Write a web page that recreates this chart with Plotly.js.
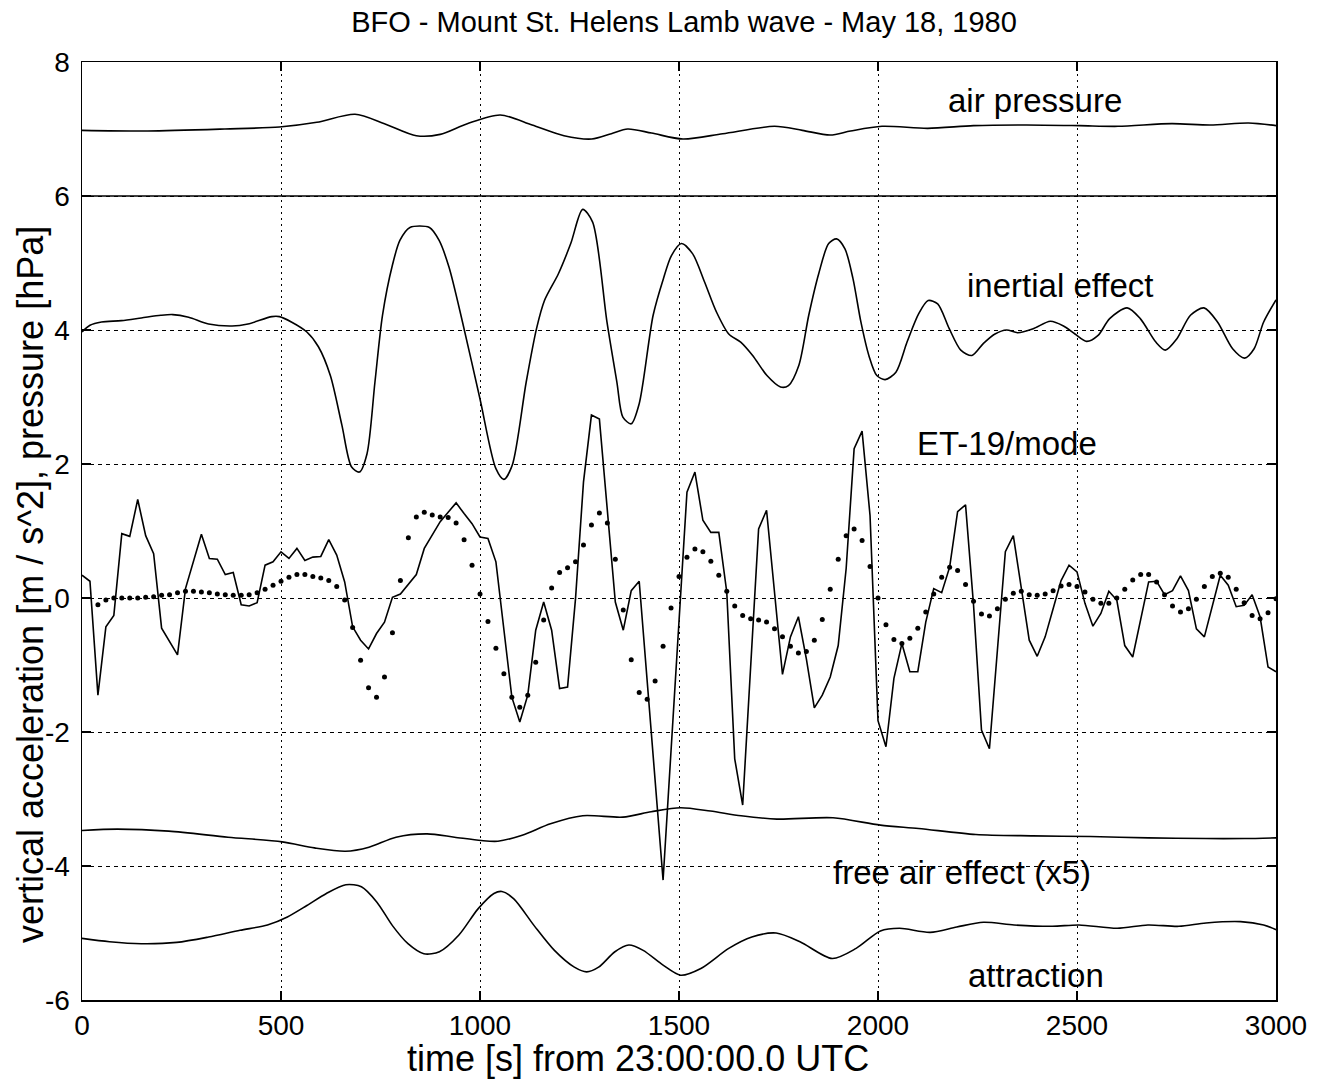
<!DOCTYPE html>
<html>
<head>
<meta charset="utf-8">
<script src="https://cdn.plot.ly/plotly-3.0.1.min.js"></script>
<style>html,body{margin:0;padding:0;background:#fff;}#chart{width:1330px;height:1079px;}</style>
</head>
<body>
<div id="chart"></div>
<script>
// ---- ET-19 / mode (solid line), sampled every 20 s ----
var et19Time = [0,20,40,60,80,100,120,140,160,180,200,220,240,260,280,300,320,340,360,380,
400,420,440,460,480,500,520,540,560,580,600,620,640,660,680,700,720,740,760,780,
800,820,840,860,880,900,920,940,960,980,1000,1020,1040,1060,1080,1100,1120,1140,1160,1180,
1200,1220,1240,1260,1280,1300,1320,1340,1360,1380,1400,1420,1440,1460,1480,1500,1520,1540,1560,1580,
1600,1620,1640,1660,1680,1700,1720,1740,1760,1780,1800,1820,1840,1860,1880,1900,1920,1940,1960,1980,
2000,2020,2040,2060,2080,2100,2120,2140,2160,2180,2200,2220,2240,2260,2280,2300,2320,2340,2360,2380,
2400,2420,2440,2460,2480,2500,2520,2540,2560,2580,2600,2620,2640,2660,2680,2700,2720,2740,2760,2780,
2800,2820,2840,2860,2880,2900,2920,2940,2960,2980,3000];
var et19Value = [0.34,0.25,-1.45,-0.43,-0.26,0.96,0.92,1.47,0.93,0.66,
-0.45,-0.66,-0.85,0.14,0.54,0.95,0.59,0.58,0.35,0.38,
-0.10,-0.12,-0.07,0.49,0.54,0.69,0.59,0.74,0.56,0.61,
0.62,0.87,0.64,0.24,-0.43,-0.63,-0.76,-0.53,-0.36,0.01,
0.06,0.21,0.35,0.74,0.94,1.14,1.28,1.42,1.26,1.11,
0.91,0.89,0.54,-0.47,-1.48,-1.85,-1.45,-0.48,-0.06,-0.48,
-1.35,-1.33,-0.01,1.73,2.73,2.67,1.33,-0.06,-0.48,0.11,
0.25,-1.24,-2.73,-4.21,-2.28,-0.35,1.58,1.88,1.16,0.98,
0.98,0.09,-2.40,-3.09,-1.03,1.03,1.31,0.04,-1.14,-0.58,
-0.28,-0.91,-1.64,-1.45,-1.18,-0.71,0.44,2.23,2.49,1.23,
-1.83,-2.22,-1.20,-0.68,-1.10,-1.10,-0.36,0.14,0.08,0.46,
1.29,1.39,-0.10,-1.97,-2.25,-0.78,0.69,0.93,0.14,-0.63,
-0.87,-0.58,-0.16,0.26,0.49,0.39,-0.08,-0.42,-0.23,0.10,
-0.03,-0.71,-0.88,-0.31,0.24,0.25,0.05,0.11,0.33,0.11,
-0.46,-0.58,-0.10,0.34,0.19,-0.13,-0.11,0.05,-0.28,-1.03,
-1.10];

// ---- mode (dots) ----
var modeTime = [40,60,80,100,120,140,160,180,200,220,240,260,280,300,320,340,360,380,
400,420,440,460,480,500,520,540,560,580,600,620,640,660,680,700,720,740,760,780,
800,820,840,860,880,900,920,940,960,980,1000,1020,1040,1060,1080,1100,1120,1140,1160,1180,
1200,1220,1240,1260,1280,1300,1320,1340,1360,1380,1400,1420,1440,1460,1480,1500,1520,1540,1560,1580,
1600,1620,1640,1660,1680,1700,1720,1740,1760,1780,1800,1820,1840,1860,1880,1900,1920,1940,1960,1980,
2000,2020,2040,2060,2080,2100,2120,2140,2160,2180,2200,2220,2240,2260,2280,2300,2320,2340,2360,2380,
2400,2420,2440,2460,2480,2500,2520,2540,2560,2580,2600,2620,2640,2660,2680,2700,2720,2740,2760,2780,
2800,2820,2840,2860,2880,2900,2920,2940,2960,2980,3000];
var modeValue = [-0.10,-0.03,0.00,0.00,0.00,0.00,0.01,0.02,0.04,0.05,
0.08,0.10,0.10,0.09,0.08,0.06,0.05,0.04,0.04,0.05,
0.08,0.13,0.19,0.25,0.31,0.35,0.35,0.32,0.30,0.26,
0.17,-0.03,-0.44,-0.93,-1.34,-1.48,-1.18,-0.52,0.26,0.90,
1.21,1.28,1.24,1.21,1.20,1.12,0.87,0.49,0.06,-0.35,
-0.75,-1.13,-1.48,-1.63,-1.45,-0.96,-0.33,0.15,0.38,0.45,
0.54,0.79,1.09,1.27,1.12,0.58,-0.18,-0.92,-1.41,-1.51,
-1.24,-0.72,-0.15,0.32,0.61,0.73,0.69,0.55,0.34,0.10,
-0.12,-0.26,-0.31,-0.33,-0.36,-0.46,-0.58,-0.72,-0.82,-0.80,
-0.63,-0.32,0.13,0.58,0.93,1.03,0.86,0.47,0.00,-0.40,
-0.62,-0.68,-0.60,-0.45,-0.21,0.06,0.31,0.46,0.41,0.20,
-0.05,-0.24,-0.27,-0.16,-0.02,0.07,0.10,0.05,0.04,0.06,
0.11,0.18,0.20,0.17,0.09,-0.02,-0.08,-0.08,0.00,0.13,
0.27,0.35,0.35,0.24,0.05,-0.12,-0.21,-0.16,-0.02,0.17,
0.32,0.37,0.31,0.13,-0.07,-0.26,-0.31,-0.22,-0.01];

// ---- air pressure ----
var airTime = [0,165,359,496,590,686,760,840,900,968,1051,1131,1211,1281,1330,1371,1431,1510,1610,1740,
1810,1880,1931,2010,2125,2240,2373,2507,2603,2738,2835,2931,3000];
var airValue = [6.98,6.97,7.00,7.03,7.10,7.22,7.08,6.90,6.92,7.08,7.21,7.06,6.90,6.85,6.93,7.00,6.94,6.85,6.93,7.04,
6.98,6.91,6.97,7.04,7.01,7.05,7.06,7.05,7.04,7.08,7.06,7.09,7.05];

// ---- inertial effect ----
var inertTime = [0,20,49,99,149,198,228,268,318,377,417,477,496,526,565,594,624,653,677,697,
716,736,755,780,799,824,873,897,922,956,1000,1040,1060,1081,1116,1142,1162,1197,1228,1258,
1283,1319,1344,1359,1380,1400,1435,1461,1481,1506,1534,1564,1594,1625,1655,1685,1721,1755,1775,1801,
1826,1851,1876,1896,1917,1937,1957,1977,1997,2018,2045,2073,2102,2126,2150,2179,2208,2236,2265,2294,
2323,2351,2390,2433,2466,2495,2524,2553,2582,2626,2659,2698,2722,2751,2785,2819,2853,2891,2921,2945,
2969,3000];
var inertValue = [3.97,4.07,4.12,4.14,4.18,4.22,4.23,4.19,4.09,4.06,4.09,4.20,4.20,4.12,3.97,3.75,3.32,2.58,1.96,1.88,
2.15,3.22,4.22,4.97,5.34,5.53,5.53,5.34,4.94,4.12,2.97,1.93,1.77,1.98,3.22,4.02,4.44,4.84,5.29,5.80,
5.61,4.12,3.22,2.70,2.60,2.90,4.22,4.77,5.11,5.29,5.14,4.72,4.27,3.94,3.82,3.62,3.32,3.15,3.17,3.47,
4.22,4.84,5.29,5.36,5.21,4.77,4.12,3.62,3.32,3.26,3.37,3.82,4.24,4.44,4.39,4.02,3.70,3.62,3.80,3.94,
4.00,3.96,4.02,4.13,4.06,3.94,3.83,3.92,4.17,4.33,4.17,3.82,3.70,3.87,4.22,4.33,4.12,3.72,3.58,3.72,
4.12,4.45];

// ---- free air effect (x5) ----
var freeTime = [0,89,218,367,503,584,662,721,789,867,936,1003,1045,1106,1177,1258,1359,1430,1504,1579,
1656,1746,1887,2006,2102,2246,2390,2534,2679,2824,2921,3000];
var freeValue = [-3.47,-3.45,-3.48,-3.57,-3.64,-3.73,-3.78,-3.72,-3.57,-3.52,-3.57,-3.62,-3.63,-3.54,-3.37,-3.25,-3.27,-3.19,-3.13,-3.18,
-3.25,-3.30,-3.28,-3.39,-3.44,-3.53,-3.55,-3.56,-3.58,-3.59,-3.59,-3.58];

// ---- attraction ----
var attrTime = [0,69,149,238,318,397,466,516,565,614,663,702,741,780,819,859,898,947,995,1035,
1055,1085,1136,1187,1237,1268,1298,1339,1374,1410,1460,1504,1555,1625,1683,1744,1804,1885,1945,2006,
2054,2131,2198,2265,2342,2438,2505,2601,2678,2756,2824,2911,2969,3000];
var attrValue = [-5.08,-5.13,-5.16,-5.14,-5.06,-4.96,-4.88,-4.76,-4.59,-4.41,-4.28,-4.31,-4.54,-4.89,-5.16,-5.31,-5.28,-5.03,-4.64,-4.41,
-4.38,-4.49,-4.89,-5.26,-5.51,-5.58,-5.51,-5.28,-5.18,-5.26,-5.48,-5.63,-5.53,-5.23,-5.06,-5.00,-5.13,-5.38,-5.23,-4.97,
-4.93,-4.99,-4.91,-4.84,-4.88,-4.90,-4.88,-4.93,-4.88,-4.90,-4.85,-4.83,-4.88,-4.95];

// ---- labels ----
var labelText = ["air pressure","inertial effect","ET-19/mode","free air effect (x5)","attraction"];
var labelTime = [2395,2458,2325,2210,2398];
var labelValue = [7.43,4.66,2.31,-4.09,-5.63];

var titleText = "BFO - Mount St. Helens Lamb wave - May 18, 1980";
var xTitleText = "time [s] from 23:00:00.0 UTC";
var yTitleText = "vertical acceleration [m / s^2], pressure [hPa]";

var xTicks = [0,500,1000,1500,2000,2500,3000];
var yTicks = [-6,-4,-2,0,2,4,6,8];

var FONT = "Liberation Sans, Arial, Helvetica, sans-serif";
var smoothLine = {color:"#000", width:1.6, shape:"spline", smoothing:0.8};

var traces = [
  {x:airTime, y:airValue, type:"scatter", mode:"lines", line:smoothLine, hoverinfo:"skip"},
  {x:inertTime, y:inertValue, type:"scatter", mode:"lines", line:smoothLine, hoverinfo:"skip"},
  {x:freeTime, y:freeValue, type:"scatter", mode:"lines", line:smoothLine, hoverinfo:"skip"},
  {x:attrTime, y:attrValue, type:"scatter", mode:"lines", line:smoothLine, hoverinfo:"skip"},
  {x:et19Time, y:et19Value, type:"scatter", mode:"lines", line:{color:"#000", width:1.6}, hoverinfo:"skip"},
  {x:modeTime, y:modeValue, type:"scatter", mode:"markers", marker:{color:"#000", size:5}, hoverinfo:"skip"}
];

var annotations = labelText.map(function(t,i){
  return {x:labelTime[i], y:labelValue[i], xref:"x", yref:"y", text:t, showarrow:false,
          font:{family:FONT, size:33, color:"#000"}, xanchor:"center", yanchor:"middle"};
});
// axis titles (placed as in the reference)
annotations.push({x:(638-82)/1194, y:(1000-1058)/938, xref:"paper", yref:"paper", text:xTitleText, showarrow:false,
  font:{family:FONT, size:36, color:"#000"}, xanchor:"center", yanchor:"middle"});
annotations.push({x:(30-82)/1194, y:(1000-585)/938, xref:"paper", yref:"paper", text:yTitleText, showarrow:false,
  textangle:-90, font:{family:FONT, size:36, color:"#000"}, xanchor:"center", yanchor:"middle"});

var layout = {
  width:1330, height:1079,
  margin:{l:82, r:54, t:62, b:79},
  paper_bgcolor:"#fff", plot_bgcolor:"#fff",
  showlegend:false,
  font:{family:FONT, color:"#000"},
  title:{text:titleText, font:{family:FONT, size:29, color:"#000"},
         x:(684-82)/1194, xref:"paper", xanchor:"center", y:1-22/1079, yref:"container", yanchor:"middle"},
  xaxis:{range:[0,3000], tickvals:xTicks, ticktext:xTicks.map(String), ticks:"inside", ticklen:9, tickwidth:1.2, tickcolor:"#000",
         showline:true, linecolor:"#000", linewidth:1.5, mirror:"ticks",
         showgrid:true, gridcolor:"#000", gridwidth:1, griddash:"2px,4px", zeroline:false,
         tickfont:{family:FONT, size:28, color:"#000"},
         automargin:false, fixedrange:true},
  yaxis:{range:[-6,8], tickvals:yTicks, ticktext:yTicks.map(String), ticks:"inside", ticklen:9, tickwidth:1.2, tickcolor:"#000",
         showline:true, linecolor:"#000", linewidth:1.5, mirror:"ticks",
         showgrid:true, gridcolor:"#000", gridwidth:1, griddash:"4px,4px", zeroline:false,
         tickfont:{family:FONT, size:28, color:"#000"}, ticklabelstandoff:5,
         automargin:false, fixedrange:true},
  annotations:annotations,
  shapes:[{type:"line", xref:"paper", yref:"y", x0:0, x1:1, y0:6, y1:6, line:{color:"#000", width:1.5}}]
};

Plotly.newPlot("chart", traces, layout, {displayModeBar:false, staticPlot:true});
</script>
</body>
</html>
